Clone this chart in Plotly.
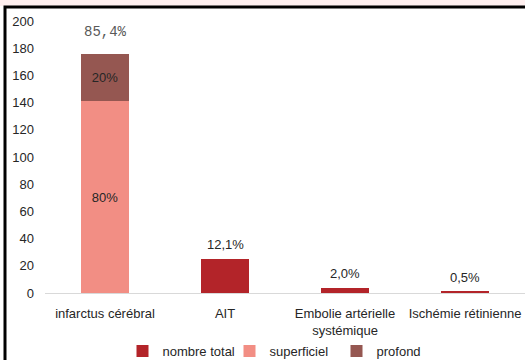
import plotly.graph_objects as go

categories = ["infarctus cérébral", "AIT", "Embolie artérielle<br>systémique", "Ischémie rétinienne"]
nombre_total = [None, 25, 4, 1]
superficiel = [141, None, None, None]
profond = [35, None, None, None]
superficiel_text = ["80%", "", "", ""]
profond_text = ["20%", "", "", ""]
totals = [176, 25, 4, 1]
pct_labels = ["85,4%", "12,1%", "2,0%", "0,5%"]
y_ticks = [0, 20, 40, 60, 80, 100, 120, 140, 160, 180, 200]

C_TOTAL = "#B32429"
C_SUP = "#F28E84"
C_PRO = "#955751"
FONT = "Liberation Sans, Arial, sans-serif"
TXT = "#262626"

fig = go.Figure()
fig.add_trace(go.Bar(name="nombre total", x=categories, y=nombre_total,
                     marker=dict(color=C_TOTAL, line=dict(width=0))))
fig.add_trace(go.Bar(name="superficiel", x=categories, y=superficiel,
                     text=superficiel_text, textposition="inside", insidetextanchor="middle",
                     textfont=dict(family=FONT, size=13, color=TXT),
                     marker=dict(color=C_SUP, line=dict(width=0))))
fig.add_trace(go.Bar(name="profond", x=categories, y=profond,
                     text=profond_text, textposition="inside", insidetextanchor="middle",
                     textfont=dict(family=FONT, size=13, color=TXT),
                     marker=dict(color=C_PRO, line=dict(width=0))))

for i, (cat, tot, lab) in enumerate(zip(categories, totals, pct_labels)):
    if i == 0:
        font = dict(family="Liberation Mono, Courier New, monospace", size=14, color="#595959")
        ys = 12
    else:
        font = dict(family=FONT, size=13, color=TXT)
        ys = 5
    fig.add_annotation(x=cat, y=tot, text=lab, showarrow=False, yanchor="bottom",
                       yshift=ys, font=font)

L, T, B = 45, 21, 67
W, H = 525, 360
ph = H - T - B
pw = W - L

def px(x):
    return (x - L) / pw

def py(y):
    return (H - B - y) / ph

# pink strip on top and black frame
fig.add_shape(type="rect", xref="paper", yref="paper", x0=px(-5), x1=px(530), y0=py(6), y1=py(-5),
              fillcolor="#FFF0F0", line=dict(width=0), layer="below")
fig.add_shape(type="rect", xref="paper", yref="paper", x0=px(5), x1=px(540), y0=py(380), y1=py(7),
              fillcolor="rgba(0,0,0,0)", line=dict(color="black", width=3))

fig.update_layout(
    barmode="stack",
    bargap=0.608,
    width=W, height=H,
    margin=dict(l=L, r=0, t=T, b=B, pad=0, autoexpand=False),
    paper_bgcolor="white",
    plot_bgcolor="white",
    font=dict(family=FONT, size=13, color=TXT),
    showlegend=True,
    legend=dict(orientation="h", x=px(283), xanchor="center", y=py(351), yanchor="middle",
                traceorder="normal", font=dict(family=FONT, size=13, color=TXT),
                itemwidth=30, entrywidth=62, entrywidthmode="pixels",
                bgcolor="rgba(0,0,0,0)"),
    xaxis=dict(showgrid=False, showline=True, linecolor="#D9D9D9", linewidth=1, automargin=False,
               tickfont=dict(family=FONT, size=13, color=TXT), ticks="", ticklabelstandoff=8),
    yaxis=dict(range=[0, 200], tickvals=y_ticks, showgrid=False, zeroline=False, showline=False,
               automargin=False,
               tickfont=dict(family=FONT, size=13, color=TXT), ticks="", ticklabelstandoff=10),
)

fig.write_html("out.html")
